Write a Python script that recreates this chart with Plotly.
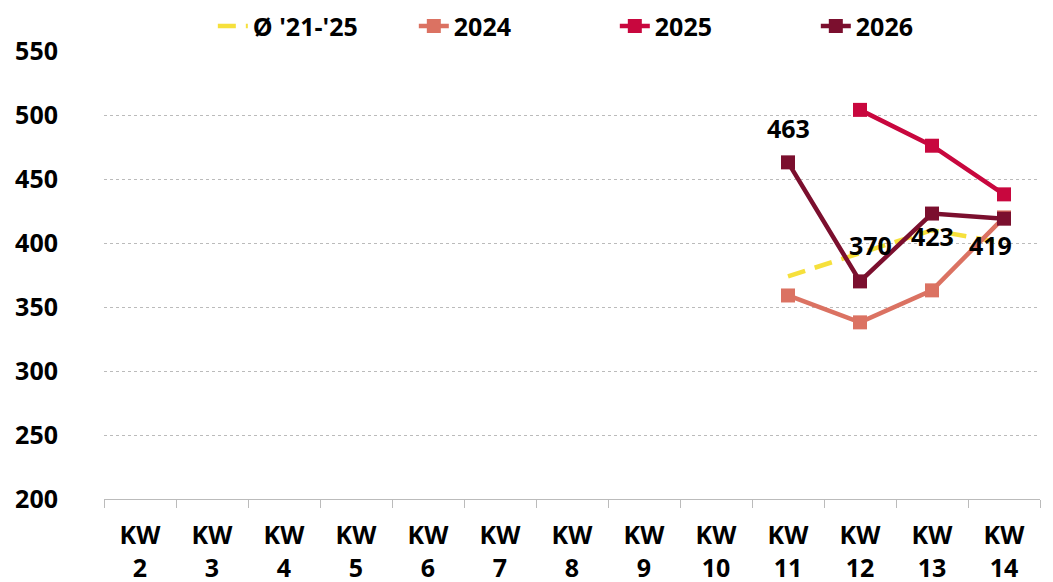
import plotly.graph_objects as go

weeks = ["KW<br>%d" % w for w in range(2, 15)]
avg_weeks = ["KW<br>11", "KW<br>12", "KW<br>13", "KW<br>14"]
avg_21_25 = [374, 392, 410, 400]
y2024 = [359, 338, 363, 420]
y2025_weeks = ["KW<br>12", "KW<br>13", "KW<br>14"]
y2025 = [504, 476, 438]
y2026 = [463, 370, 423, 419]
# label offsets (px) for the 2026 data labels
label_shift = [(0, 34), (10, 36), (0, -22), (-14, -26)]

FONT = "Open Sans"
SIZE = 25

fig = go.Figure()

fig.add_trace(go.Scatter(
    x=avg_weeks, y=avg_21_25, mode='lines', name="Ø '21-'25",
    line=dict(color='#F6E03C', width=4.5, dash='18px,10px'),
))
fig.add_trace(go.Scatter(
    x=avg_weeks, y=y2024, mode='lines+markers', name='2024',
    line=dict(color='#DB7262', width=4.5),
    marker=dict(symbol='square', size=14, color='#DB7262'),
))
fig.add_trace(go.Scatter(
    x=y2025_weeks, y=y2025, mode='lines+markers', name='2025',
    line=dict(color='#C8073E', width=4.5),
    marker=dict(symbol='square', size=14, color='#C8073E'),
))
fig.add_trace(go.Scatter(
    x=avg_weeks, y=y2026, mode='lines+markers', name='2026',
    line=dict(color='#7B0F2E', width=4.5),
    marker=dict(symbol='square', size=14, color='#7B0F2E'),
))

for wk, v, (dx, dy) in zip(avg_weeks, y2026, label_shift):
    fig.add_annotation(x=wk, y=v, text=str(v), showarrow=False,
                       xshift=dx, yshift=dy,
                       font=dict(family=FONT, size=SIZE, color='black', weight='bold'))

fig.update_layout(
    width=1045, height=574,
    margin=dict(l=96, r=13, t=43, b=83, autoexpand=False),
    paper_bgcolor='white', plot_bgcolor='white',
    font=dict(family=FONT, size=SIZE, color='black', weight='bold'),
    legend=dict(orientation='h', xref='container', x=0.196, xanchor='left',
                yref='container', y=0.968, yanchor='middle',
                font=dict(family=FONT, size=SIZE, color='black', weight='bold'),
                entrywidthmode='pixels', entrywidth=156),
    xaxis=dict(type='category', categoryorder='array', categoryarray=weeks,
               range=[-0.5, 12.5], automargin=False,
               tickson='boundaries', ticks='outside', ticklen=8, tickcolor='#BBBBBB',
               showline=True, linecolor='#BBBBBB', linewidth=1, showgrid=False,
               ticklabelstandoff=14,
               tickfont=dict(family=FONT, size=SIZE, color='black', weight='bold')),
    yaxis=dict(range=[200, 550], dtick=50, showgrid=True, gridcolor='#BBBBBB',
               griddash='dot', gridwidth=1, zeroline=False, ticks='',
               ticklabelstandoff=45, automargin=False,
               tickfont=dict(family=FONT, size=SIZE, color='black', weight='bold')),
    showlegend=True,
)

fig.write_html("out.html")
